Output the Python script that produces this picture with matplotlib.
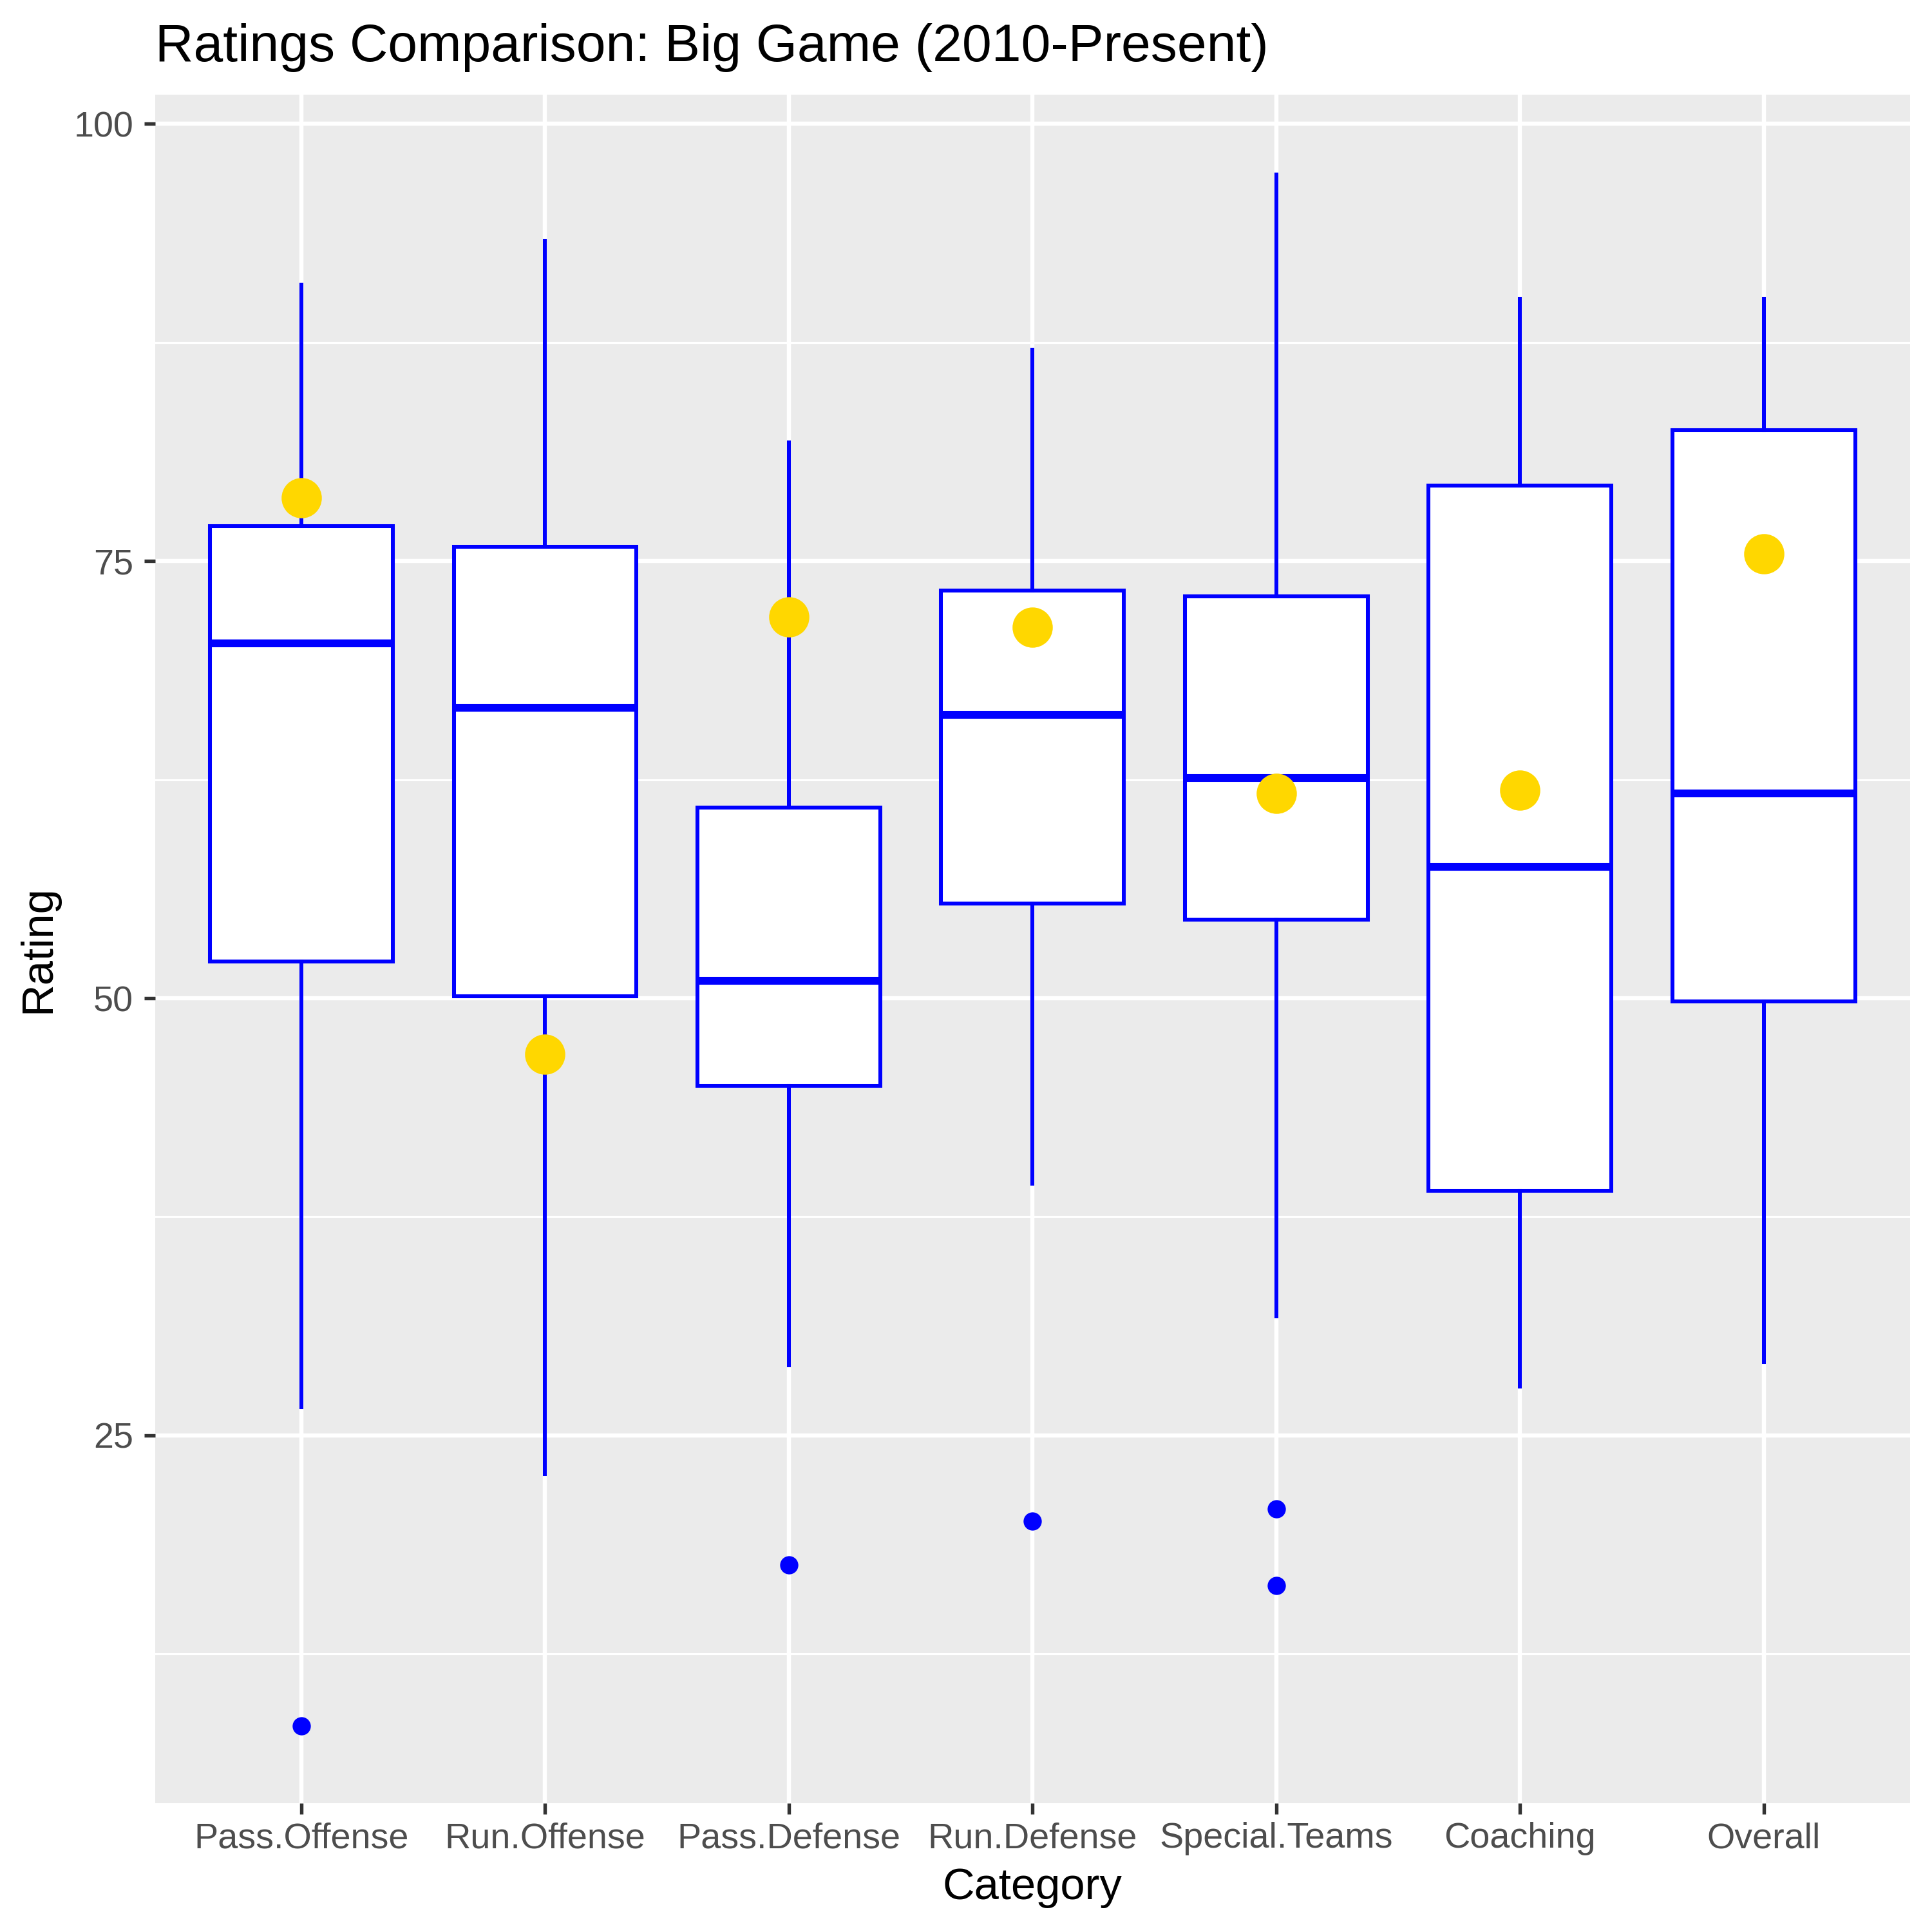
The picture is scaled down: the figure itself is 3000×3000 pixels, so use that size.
import matplotlib
matplotlib.use("Agg")
import matplotlib.pyplot as plt
from matplotlib.ticker import MultipleLocator

plt.rcParams['font.family'] = ['Liberation Sans', 'DejaVu Sans']

# datos
categorias = ["Pass.Offense", "Run.Offense", "Pass.Defense", "Run.Defense",
              "Special.Teams", "Coaching", "Overall"]
bigote_bajo = [26.6, 22.8, 29.0, 39.4, 31.8, 27.8, 29.2]
q1 = [52.1, 50.1, 45.0, 55.4, 54.5, 39.0, 49.8]
mediana = [70.3, 66.6, 51.0, 66.2, 62.6, 57.5, 61.7]
q3 = [77.0, 75.8, 60.9, 73.3, 73.0, 79.3, 82.5]
bigote_alto = [90.8, 93.3, 81.8, 87.1, 97.1, 90.0, 90.0]
atipicos = [[8.4], [], [17.6], [20.1], [20.8, 16.4], [], []]
big_game = [78.6, 46.8, 71.8, 71.2, 61.7, 61.9, 75.4]

fig = plt.figure(figsize=(10, 10), dpi=300)
ax = fig.add_axes([0.0803, 0.0668, 0.9083, 0.8841])
ax.set_facecolor('#EBEBEB')
for s in ax.spines.values():
    s.set_visible(False)

stats = []
for i in range(len(categorias)):
    stats.append(dict(whislo=bigote_bajo[i], q1=q1[i], med=mediana[i], q3=q3[i],
                      whishi=bigote_alto[i], fliers=atipicos[i], label=categorias[i]))

pos = list(range(len(categorias)))
ax.bxp(stats, positions=pos, widths=0.75, showcaps=False, patch_artist=True,
       boxprops=dict(facecolor='white', edgecolor='blue', linewidth=1.45),
       medianprops=dict(color='blue', linewidth=2.9, solid_capstyle='butt'),
       whiskerprops=dict(color='blue', linewidth=1.45),
       flierprops=dict(marker='o', markerfacecolor='blue', markeredgecolor='blue',
                       markersize=6.8, markeredgewidth=0, linestyle='none'),
       zorder=3)

ax.plot(pos, big_game, 'o', color='#FFD700', markersize=15, markeredgewidth=0, zorder=5)

ax.set_xlim(-0.6, 6.6)
ax.set_ylim(3.98, 101.66)
ax.yaxis.set_major_locator(MultipleLocator(25))
ax.yaxis.set_minor_locator(MultipleLocator(12.5))
ax.set_xticks(pos)
ax.set_xticklabels(categorias)

ax.grid(True, which='major', color='white', linewidth=1.55, zorder=0)
ax.grid(True, which='minor', axis='y', color='white', linewidth=0.75, zorder=0)
ax.set_axisbelow(True)

ax.tick_params(axis='both', which='major', length=4.1, width=1.3, color='#333333',
               labelcolor='#4D4D4D', labelsize=13.4)
ax.tick_params(axis='x', which='major', pad=3)
ax.tick_params(axis='y', which='major', pad=4)
ax.tick_params(axis='both', which='minor', length=0)

ax.set_xlabel("Category", fontsize=16.5, color='black')
ax.xaxis.set_label_coords(0.5, -0.0374)
ax.set_ylabel("Rating", fontsize=16.5, color='black')
ax.yaxis.set_label_coords(-0.055, 0.5)

fig.text(0.0803, 0.9683, "Ratings Comparison: Big Game (2010-Present)",
         fontsize=19.75, color='black', ha='left', va='baseline')

fig.savefig("out.png", dpi=300, facecolor='white')
